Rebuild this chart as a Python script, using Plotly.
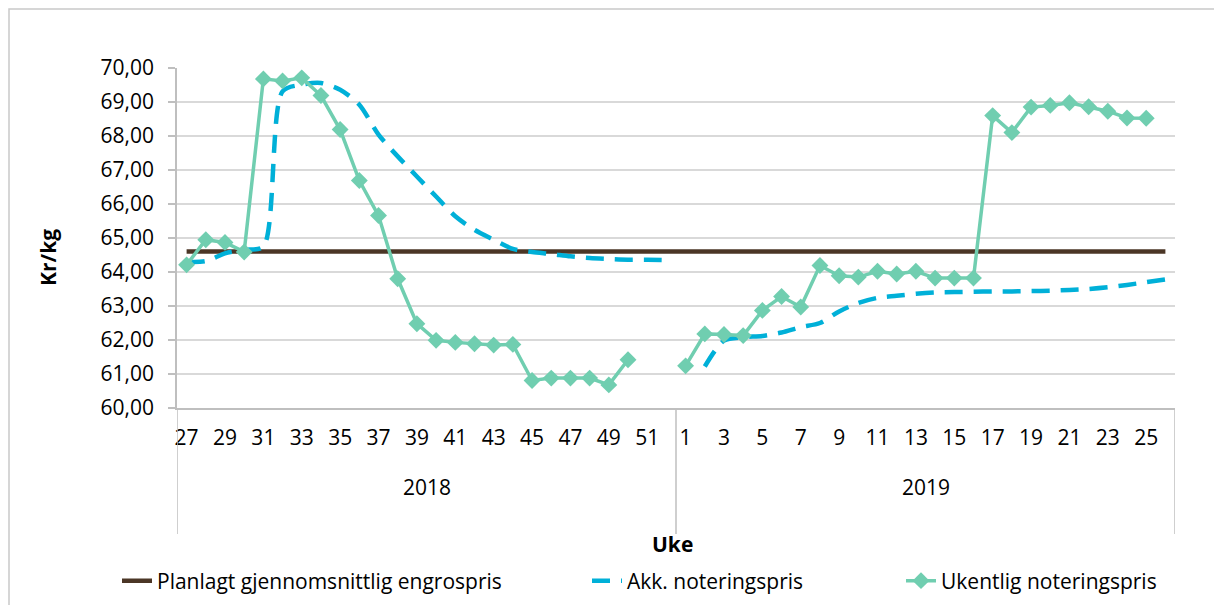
import plotly.graph_objects as go

# ---- data -------------------------------------------------------------
years = ["2018", "2019"]
weeks_2018 = [27, 28, 29, 30, 31, 32, 33, 34, 35, 36, 37, 38, 39,
              40, 41, 42, 43, 44, 45, 46, 47, 48, 49, 50, 51, 52]
weeks_2019 = [1, 2, 3, 4, 5, 6, 7, 8, 9, 10, 11, 12, 13,
              14, 15, 16, 17, 18, 19, 20, 21, 22, 23, 24, 25, 26]

planlagt_2018 = [64.6, 64.6, 64.6, 64.6, 64.6, 64.6, 64.6, 64.6, 64.6, 64.6, 64.6, 64.6, 64.6,
                 64.6, 64.6, 64.6, 64.6, 64.6, 64.6, 64.6, 64.6, 64.6, 64.6, 64.6, 64.6, 64.6]
planlagt_2019 = [64.6, 64.6, 64.6, 64.6, 64.6, 64.6, 64.6, 64.6, 64.6, 64.6, 64.6, 64.6, 64.6,
                 64.6, 64.6, 64.6, 64.6, 64.6, 64.6, 64.6, 64.6, 64.6, 64.6, 64.6, 64.6, 64.6]

akk_2018 = [64.30, 64.32, 64.55, 64.65, 64.75, 69.31, 69.51, 69.56, 69.36, 68.92, 68.04, 67.40, 66.81,
            66.22, 65.64, 65.24, 64.95, 64.68, 64.59, 64.53, 64.46, 64.41, 64.38, 64.36, 64.36, 64.35]
akk_2019 = [None, 61.22, 61.98, 62.08, 62.12, 62.22, 62.38, 62.50, 62.84, 63.09, 63.24, 63.30, 63.36,
            63.40, 63.41, 63.42, 63.43, 63.43, 63.44, 63.45, 63.47, 63.50, 63.55, 63.62, 63.70, 63.78]

ukentlig_2018 = [64.21, 64.95, 64.87, 64.59, 69.68, 69.62, 69.71, 69.19, 68.19, 66.69, 65.66, 63.80, 62.48,
                 61.99, 61.93, 61.89, 61.85, 61.87, 60.81, 60.88, 60.88, 60.88, 60.68, 61.42, None, None]
ukentlig_2019 = [61.24, 62.18, 62.16, 62.13, 62.87, 63.28, 62.97, 64.19, 63.89, 63.85, 64.02, 63.94, 64.02,
                 63.82, 63.82, 63.82, 68.60, 68.10, 68.85, 68.90, 68.98, 68.86, 68.73, 68.53, 68.52, None]

y_ticks = [60, 61, 62, 63, 64, 65, 66, 67, 68, 69, 70]

# ---- build ------------------------------------------------------------
cats = [f"{years[0]}-{w}" for w in weeks_2018] + [f"{years[1]}-{w}" for w in weeks_2019]
week_labels = [str(w) for w in weeks_2018 + weeks_2019]
planlagt = planlagt_2018 + planlagt_2019
akk = akk_2018 + akk_2019
ukentlig = ukentlig_2018 + ukentlig_2019

FONT = "Open Sans, Liberation Sans, sans-serif"
FS = 21
BROWN = "rgb(75,54,38)"
BLUE = "rgb(0,176,216)"
GREEN = "rgb(112,206,176)"
GRID = "#D9D9D9"
AXIS = "#BFBFBF"

fig = go.Figure()
fig.add_trace(go.Scatter(
    x=cats, y=planlagt, mode="lines", name="Planlagt gjennomsnittlig engrospris",
    line=dict(color=BROWN, width=4.5), legend="legend"))
fig.add_trace(go.Scatter(
    x=cats, y=akk, mode="lines", name="Akk. noteringspris",
    line=dict(color=BLUE, width=4.5, dash="18px,11px", shape="spline", smoothing=0.8),
    connectgaps=False, legend="legend2"))
fig.add_trace(go.Scatter(
    x=cats, y=ukentlig, mode="lines+markers", name="Ukentlig noteringspris",
    line=dict(color=GREEN, width=3.5),
    marker=dict(symbol="diamond", size=13, color=GREEN),
    connectgaps=False, legend="legend3"))

W, H = 1214, 605
L, R, T, B = 177, 39, 68, 197
pw, ph = W - L - R, H - T - B

def px_x(page_x):
    return (page_x - L) / pw

def px_y(page_y):
    return (H - B - page_y) / ph

leg_common = dict(orientation="h", xanchor="left", yanchor="middle",
                  y=px_y(581), font=dict(family=FONT, size=FS, color="#000"),
                  bgcolor="rgba(0,0,0,0)")

shapes = []
for xb in [-0.5, 25.5, 51.5]:
    shapes.append(dict(type="line", xref="x", yref="paper", x0=xb, x1=xb,
                       y0=0, y1=px_y(534), line=dict(color=AXIS, width=1.5)))
shapes.append(dict(type="rect", xref="paper", yref="paper",
                   x0=px_x(9), x1=px_x(1260), y0=px_y(660), y1=px_y(9),
                   line=dict(color="#C9C9C9", width=1.5), layer="below"))

txt = dict(showarrow=False, xanchor="center", yanchor="middle",
           font=dict(family=FONT, size=FS, color="#000"))
annotations = [
    dict(text=years[0], x=12.5, xref="x", y=px_y(487), yref="paper", **txt),
    dict(text=years[1], x=38.5, xref="x", y=px_y(487), yref="paper", **txt),
    dict(text="<b>Uke</b>", x=px_x(672), xref="paper", y=px_y(544), yref="paper", **txt),
    dict(text="<b>Kr/kg</b>", x=px_x(48), xref="paper", y=px_y(258), yref="paper",
         textangle=-90, **txt),
]

fig.update_layout(
    width=W, height=H,
    margin=dict(l=L, r=R, t=T, b=B, pad=0, autoexpand=False),
    paper_bgcolor="white", plot_bgcolor="white",
    font=dict(family=FONT, size=FS, color="#000"),
    showlegend=True,
    legend=dict(x=px_x(157 - 40), **leg_common),
    legend2=dict(x=px_x(627 - 40), **leg_common),
    legend3=dict(x=px_x(941 - 40), **leg_common),
    shapes=shapes,
    annotations=annotations,
    xaxis=dict(type="category", categoryorder="array", categoryarray=cats,
               range=[-0.5, len(cats) - 0.5],
               tickmode="array", tickvals=cats[::2], ticktext=week_labels[::2],
               ticks="", showgrid=False, showline=True, linecolor=AXIS, linewidth=1.5,
               tickfont=dict(family=FONT, size=FS, color="#000"),
               ticklabelstandoff=10, zeroline=False, automargin=False),
    yaxis=dict(range=[60, 70], tickmode="array", tickvals=y_ticks,
               ticktext=[f"{v:.2f}".replace(".", ",") for v in y_ticks],
               ticks="outside", ticklen=7, tickcolor=AXIS, tickwidth=1.5,
               showgrid=True, gridcolor=GRID, gridwidth=1.5,
               showline=True, linecolor=AXIS, linewidth=1.5, zeroline=False,
               tickfont=dict(family=FONT, size=FS, color="#000"),
               ticklabelstandoff=10, automargin=False),
)

fig.write_html(
    "out.html",
    config={"displayModeBar": False},
    post_script="document.body.style.margin='0';document.body.style.overflow='hidden';",
)
